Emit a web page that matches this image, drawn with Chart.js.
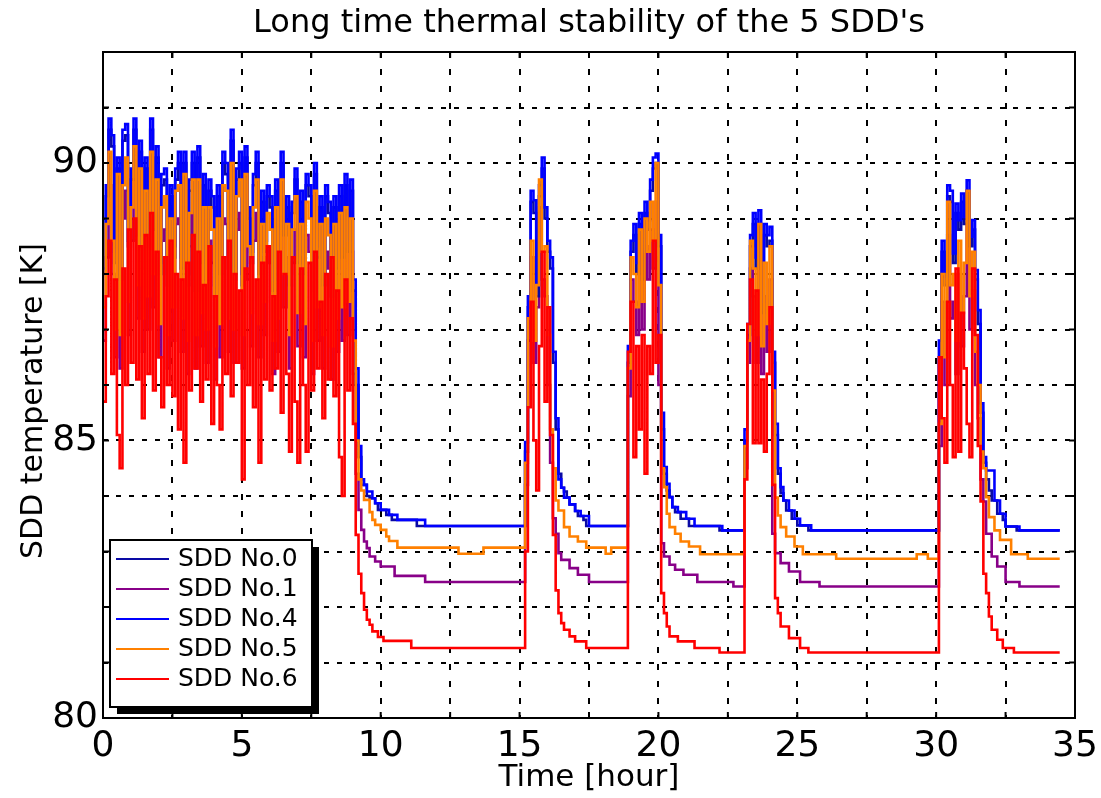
<!DOCTYPE html>
<html>
<head>
<meta charset="utf-8">
<script src="https://cdn.jsdelivr.net/npm/chart.js@4.4.1/dist/chart.umd.min.js"></script>
<style>
  html, body { margin: 0; padding: 0; background: #fff; }
  #wrap { width: 1101px; height: 798px; }
</style>
</head>
<body>
<div id="wrap"><canvas id="chart" width="1101" height="798"></canvas></div>
<script>
// readings are sampled every 0.1 h inside each block; a block's last value holds until the next block starts
const blockStartHours = [0, 12.8, 15.1, 18.1, 18.8, 23.0, 26.4, 29.3, 30.0, 34.45];
const sampleStepHours = 0.1;

const seriesNames = ['SDD No.0', 'SDD No.1', 'SDD No.4', 'SDD No.5', 'SDD No.6'];
const seriesColors = ['#0a0aa5', '#880088', '#0000ff', '#ff8000', '#ff0000'];
const drawOrder = [4, 5, 3, 2, 1]; // red on top, purple at the bottom

const xTicks = [0, 5, 10, 15, 20, 25, 30, 35];
const yTicks = [80, 85, 90];
const yTitle = 'SDD temperature [K]';

const sdd0 = [
  [88.0, 89.4, 90.6, 90.3, 88.2, 89.9, 87.9, 90.4, 90.5, 88.5,
   89.7, 90.6, 88.7, 90.2, 88.1, 89.9, 88.5, 90.6, 88.8, 90.1,
   88.0, 89.6, 89.7, 87.8, 89.4, 88.3, 89.7, 90.0, 88.1, 90.0,
   87.8, 89.5, 90.0, 87.7, 90.1, 88.2, 89.6, 87.9, 89.5, 89.2,
   87.6, 89.4, 88.0, 90.0, 89.8, 88.1, 90.4, 87.9, 89.7, 90.0,
   87.8, 90.1, 89.0, 88.2, 89.6, 90.0, 88.0, 89.3, 88.4, 89.4,
   89.2, 87.7, 89.5, 88.1, 90.0, 88.7, 89.2, 87.8, 89.1, 89.7,
   88.2, 89.3, 88.0, 89.6, 89.4, 87.7, 89.8, 88.3, 89.2, 87.8,
   89.4, 89.1, 87.6, 89.2, 88.1, 89.4, 88.3, 89.6, 88.4, 89.5,
   87.7,
   86.0, 84.7, 84.2, 84.2, 84.0, 83.96, 83.96, 83.87, 83.75,
   83.75, 83.75, 83.66, 83.66, 83.57, 83.57, 83.57, 83.57, 83.57, 83.57,
   83.57, 83.57, 83.57, 83.46],
  [83.46],
  [83.46, 84.8, 87.4, 89.3, 89.1, 87.6, 89.4, 89.9, 89.0, 88.4,
   88.1, 86.4, 85.2, 84.4, 84.15, 84.08, 83.97, 83.85, 83.85, 83.73,
   83.64, 83.64, 83.57, 83.46],
  [83.46],
  [83.46, 86.4, 88.4, 88.7, 88.0, 88.9, 87.9, 89.1, 88.8, 89.5,
   89.9, 90.0, 88.5, 85.2, 84.4, 84.1, 83.98, 83.8, 83.71, 83.71,
   83.59, 83.59, 83.59, 83.46, 83.46, 83.46, 83.46, 83.46, 83.46, 83.46,
   83.46, 83.46, 83.46, 83.46, 83.38],
  [83.38, 85.0, 86.9, 88.5, 88.9, 88.1, 88.9, 87.3, 88.7, 88.5,
   88.6, 86.4, 85.1, 84.4, 84.05, 83.92, 83.74, 83.74, 83.59, 83.59,
   83.47, 83.47, 83.47, 83.47, 83.38],
  [83.38],
  [83.38],
  [83.38, 86.5, 88.4, 87.8, 89.4, 89.3, 88.2, 89.1, 88.8, 89.3,
   88.9, 89.5, 88.5, 88.8, 87.9, 87.1, 85.5, 84.6, 84.3, 84.1,
   83.92, 83.92, 83.68, 83.68, 83.57, 83.45, 83.45, 83.45, 83.45, 83.38],
  [83.38]
];

const sdd1 = [
  [86.8, 88.3, 89.6, 88.0, 86.5, 89.2, 86.3, 89.0, 89.5, 86.9,
   88.6, 89.7, 87.2, 89.3, 86.6, 88.9, 87.0, 89.6, 87.4, 89.1,
   86.5, 88.6, 88.8, 86.3, 88.4, 86.8, 88.9, 89.0, 86.6, 89.2,
   86.2, 88.5, 89.1, 86.3, 89.1, 86.7, 88.6, 86.4, 88.6, 88.2,
   86.1, 88.4, 86.5, 89.0, 88.9, 86.6, 89.4, 86.4, 88.8, 89.1,
   86.3, 89.2, 87.9, 86.7, 88.6, 89.1, 86.5, 88.3, 86.9, 88.5,
   88.2, 86.2, 88.6, 86.6, 89.1, 87.4, 88.3, 86.3, 88.2, 88.8,
   86.7, 88.3, 86.5, 88.7, 88.4, 86.2, 88.9, 86.8, 88.3, 86.3,
   88.4, 88.1, 86.1, 88.3, 86.6, 88.5, 86.8, 88.6, 86.9, 88.4,
   86.2,
   84.4, 83.75, 83.39, 83.18, 83.06, 82.91, 82.91, 82.82, 82.82,
   82.73, 82.73, 82.73, 82.73, 82.73, 82.56, 82.56, 82.56, 82.56, 82.56,
   82.56, 82.56, 82.56, 82.56, 82.56, 82.56, 82.45],
  [82.45],
  [82.45, 84.2, 86.8, 88.3, 86.4, 87.4, 89.2, 87.9, 87.6, 86.0,
   84.6, 83.6, 83.32, 82.97, 82.85, 82.85, 82.85, 82.7, 82.7, 82.7,
   82.58, 82.58, 82.58, 82.58, 82.45],
  [82.45],
  [82.45, 85.8, 87.9, 87.5, 86.9, 88.3, 87.0, 88.5, 87.9, 88.8,
   88.1, 89.3, 86.0, 83.15, 82.91, 82.91, 82.76, 82.76, 82.67, 82.67,
   82.67, 82.58, 82.58, 82.58, 82.58, 82.58, 82.45, 82.45, 82.45, 82.45,
   82.45, 82.45, 82.45, 82.45, 82.45, 82.45, 82.45, 82.45, 82.45, 82.37],
  [82.37, 84.5, 86.4, 88.1, 87.6, 86.4, 88.3, 86.2, 87.6, 86.6,
   87.9, 83.32, 82.97, 82.97, 82.79, 82.79, 82.79, 82.64, 82.64, 82.64,
   82.64, 82.45, 82.45, 82.45, 82.45, 82.45, 82.45, 82.45, 82.37],
  [82.37],
  [82.37],
  [82.37, 84.9, 87.5, 86.0, 88.7, 87.2, 87.5, 86.2, 88.0, 86.7,
   87.6, 88.9, 87.0, 87.7, 86.0, 85.4, 84.3, 83.9, 83.32, 83.32,
   82.91, 82.91, 82.73, 82.73, 82.73, 82.45, 82.45, 82.45, 82.45, 82.45,
   82.37],
  [82.37]
];

const sdd4 = [
  [88.1, 89.6, 90.8, 90.5, 88.4, 90.1, 88.0, 90.6, 90.7, 88.6,
   89.9, 90.8, 88.9, 90.4, 88.3, 90.1, 88.7, 90.8, 89.0, 90.3,
   88.2, 89.8, 89.9, 88.0, 89.6, 88.5, 89.9, 90.2, 88.3, 90.2,
   88.0, 89.7, 90.2, 87.9, 90.3, 88.4, 89.8, 88.1, 89.7, 89.4,
   87.8, 89.6, 88.2, 90.2, 90.0, 88.3, 90.6, 88.1, 89.9, 90.2,
   88.0, 90.3, 89.2, 88.4, 89.8, 90.2, 88.2, 89.5, 88.6, 89.6,
   89.4, 87.9, 89.7, 88.3, 90.2, 88.9, 89.4, 88.0, 89.3, 89.9,
   88.4, 89.5, 88.2, 89.8, 89.6, 87.9, 90.0, 88.5, 89.4, 88.0,
   89.6, 89.3, 87.8, 89.4, 88.3, 89.6, 88.5, 89.8, 88.6, 89.7,
   87.9,
   86.3, 84.9, 84.3, 84.2, 84.08, 84.08, 83.96, 83.87, 83.87,
   83.75, 83.75, 83.75, 83.66, 83.66, 83.66, 83.57, 83.57, 83.57, 83.57,
   83.57, 83.57, 83.57, 83.57, 83.57, 83.57, 83.46],
  [83.46],
  [83.46, 84.97, 87.6, 89.5, 89.33, 87.8, 89.6, 90.1, 89.2, 88.6,
   88.3, 86.6, 85.4, 84.3, 84.15, 83.97, 83.97, 83.85, 83.85, 83.73,
   83.73, 83.64, 83.64, 83.64, 83.46],
  [83.46],
  [83.46, 86.7, 88.6, 88.9, 88.2, 89.1, 88.1, 89.3, 88.97, 89.7,
   90.1, 90.17, 88.7, 85.5, 84.52, 84.22, 83.98, 83.8, 83.8, 83.71,
   83.71, 83.71, 83.59, 83.59, 83.59, 83.46, 83.46, 83.46, 83.46, 83.46,
   83.46, 83.46, 83.46, 83.46, 83.46, 83.38],
  [83.38, 85.2, 87.1, 88.7, 89.1, 88.3, 89.15, 87.5, 88.9, 88.7,
   88.85, 86.6, 85.3, 84.5, 84.16, 83.92, 83.92, 83.74, 83.74, 83.59,
   83.59, 83.47, 83.47, 83.47, 83.47, 83.38],
  [83.38],
  [83.38],
  [83.38, 86.8, 88.6, 87.95, 89.6, 89.5, 88.37, 89.27, 88.97, 89.45,
   89.03, 89.69, 88.67, 88.97, 88.07, 87.35, 85.67, 84.7, 84.46, 84.46,
   84.46, 83.92, 83.92, 83.68, 83.68, 83.45, 83.45, 83.45, 83.45, 83.45,
   83.38],
  [83.38]
];

const sdd5 = [
  [87.4, 88.9, 90.2, 88.6, 87.0, 89.8, 86.9, 89.6, 90.1, 87.5,
   89.2, 90.3, 87.8, 89.9, 87.2, 89.5, 87.6, 90.2, 88.0, 89.7,
   87.1, 89.2, 89.4, 86.9, 89.0, 87.4, 89.5, 89.6, 87.2, 89.8,
   86.8, 89.1, 89.7, 86.9, 89.7, 87.3, 89.2, 87.0, 89.2, 88.8,
   86.7, 89.0, 87.1, 89.6, 89.5, 87.2, 90.0, 87.0, 89.4, 89.7,
   86.9, 89.8, 88.5, 87.3, 89.2, 89.7, 87.1, 88.9, 87.5, 89.1,
   88.8, 86.8, 89.2, 87.2, 89.7, 88.0, 88.9, 86.9, 88.8, 89.4,
   87.3, 88.9, 87.1, 89.3, 89.0, 86.8, 89.5, 87.4, 88.9, 86.9,
   89.0, 88.7, 86.7, 88.9, 87.2, 89.1, 87.4, 89.2, 87.5, 89.0,
   86.8,
   85.0, 84.3, 84.1, 83.93, 83.93, 83.71, 83.57, 83.48, 83.48,
   83.39, 83.39, 83.27, 83.19, 83.19, 83.19, 83.07],
  [82.96, 82.96, 82.96, 82.96, 82.96, 82.96, 82.96, 82.96, 82.96, 83.07],
  [83.07, 84.6, 87.2, 88.6, 86.8, 87.8, 89.7, 88.4, 88.5, 86.9,
   85.2, 84.5, 83.92, 83.74, 83.74, 83.44, 83.44, 83.27, 83.27, 83.27,
   83.18, 83.18, 83.18, 83.07],
  [82.96, 82.96, 83.07],
  [83.07, 86.3, 88.3, 88.0, 87.4, 88.8, 87.5, 89.0, 88.4, 89.3,
   88.6, 90.0, 87.8, 84.5, 84.16, 83.68, 83.44, 83.44, 83.32, 83.32,
   83.18, 83.18, 83.18, 83.09, 83.09, 83.09, 83.09, 82.95],
  [82.95, 84.9, 86.8, 88.6, 88.1, 86.9, 88.9, 86.7, 88.2, 87.1,
   88.5, 85.9, 83.97, 83.65, 83.44, 83.44, 83.27, 83.27, 83.27, 83.09,
   83.09, 83.09, 82.95],
  [82.87],
  [82.95, 82.95, 82.95, 82.95, 82.87],
  [82.87, 85.3, 88.0, 86.5, 89.3, 87.8, 88.0, 86.8, 88.6, 87.3,
   88.2, 89.5, 87.6, 88.4, 86.6, 86.0, 84.8, 84.5, 83.98, 83.62,
   83.62, 83.38, 83.38, 83.21, 83.21, 83.21, 83.21, 82.95, 82.95, 82.95,
   82.95, 82.95, 82.95, 82.87],
  [82.87]
];

const sdd6 = [
  [85.7, 87.6, 88.6, 86.2, 87.9, 85.1, 84.5, 88.1, 86.0, 88.8,
   86.4, 89.0, 86.1, 88.5, 85.4, 88.7, 86.2, 89.1, 85.9, 88.4,
   86.5, 85.6, 88.3, 86.0, 88.6, 85.8, 88.0, 85.2, 87.9, 84.6,
   88.2, 85.9, 88.7, 86.3, 88.4, 85.7, 87.8, 86.1, 88.5, 85.3,
   87.6, 86.0, 85.2, 88.3, 86.2, 88.6, 85.8, 88.0, 86.4, 87.7,
   84.3, 88.1, 86.0, 88.3, 85.6, 87.9, 84.6, 88.2, 86.1, 88.5,
   85.9, 87.6, 86.3, 88.4, 85.5, 88.0, 86.2, 84.8, 88.3, 85.7,
   84.6, 88.1, 86.0, 84.8, 88.2, 85.9, 88.4, 86.3, 87.5, 85.4,
   88.0, 86.1, 88.3, 85.8, 87.7, 84.7, 84.0, 87.9, 85.9, 87.2,
   85.3,
   83.3, 82.6, 82.25, 81.95, 81.77, 81.68, 81.56, 81.56, 81.46,
   81.46, 81.39, 81.39, 81.39, 81.39, 81.39, 81.39, 81.39, 81.39, 81.39,
   81.39, 81.26],
  [81.26],
  [81.26, 83.0, 85.6, 87.5, 85.0, 84.1, 86.7, 88.4, 85.7, 87.4,
   85.1, 83.3, 82.3, 81.89, 81.71, 81.59, 81.59, 81.47, 81.47, 81.38,
   81.38, 81.38, 81.38, 81.26],
  [81.26],
  [81.26, 86.6, 87.5, 84.7, 86.7, 85.2, 86.9, 84.4, 86.7, 86.2,
   88.6, 86.4, 86.9, 82.25, 81.89, 81.65, 81.47, 81.47, 81.47, 81.38,
   81.38, 81.38, 81.38, 81.38, 81.38, 81.26, 81.26, 81.26, 81.26, 81.26,
   81.26, 81.26, 81.26, 81.26, 81.18],
  [81.18, 84.3, 87.1, 87.9, 84.95, 87.7, 84.95, 86.1, 84.8, 86.2,
   87.4, 84.2, 82.16, 81.89, 81.65, 81.65, 81.65, 81.44, 81.44, 81.44,
   81.44, 81.26, 81.26, 81.26, 81.18],
  [81.18],
  [81.18],
  [81.18, 86.5, 85.4, 84.6, 87.5, 86.0, 84.7, 88.1, 84.8, 87.3,
   86.3, 85.3, 84.7, 88.1, 86.9, 84.9, 83.9, 82.6, 82.25, 81.83,
   81.59, 81.59, 81.41, 81.41, 81.26, 81.26, 81.26, 81.26, 81.18],
  [81.18]
];

const seriesValues = [sdd0, sdd1, sdd4, sdd5, sdd6];

// turn the blocks of one series into {x: hour, y: kelvin} points
const toPoints = (blocks) => {
    const pts = [];
    blocks.forEach((vals, b) => {
        vals.forEach((v, i) => {
            pts.push({ x: Math.round((blockStartHours[b] + i * sampleStepHours) * 100) / 100, y: v });
        });
    });
    return pts;
};

const FONT = '"DejaVu Sans", sans-serif';

// plot frame, inner tick marks, y title and the boxed legend with its shadow
const frameAndLegend = {
    id: 'frameAndLegend',
    afterDraw(chart) {
        const { ctx, chartArea: a, scales } = chart;
        ctx.save();
        ctx.setLineDash([]);
        ctx.strokeStyle = '#000';
        ctx.lineWidth = 2;
        ctx.beginPath();
        scales.x.ticks.forEach(t => {
            const px = scales.x.getPixelForValue(t.value);
            ctx.moveTo(px, a.bottom); ctx.lineTo(px, a.bottom - 6);
            ctx.moveTo(px, a.top); ctx.lineTo(px, a.top + 6);
        });
        scales.y.ticks.forEach(t => {
            const py = scales.y.getPixelForValue(t.value);
            ctx.moveTo(a.left, py); ctx.lineTo(a.left + 6, py);
            ctx.moveTo(a.right, py); ctx.lineTo(a.right - 6, py);
        });
        ctx.stroke();
        ctx.strokeRect(a.left, a.top, a.right - a.left, a.bottom - a.top);

        // y axis title, sitting a little below the middle as in the original
        ctx.save();
        ctx.translate(34, a.top + (a.bottom - a.top) / 2 + 16);
        ctx.rotate(-Math.PI / 2);
        ctx.font = '30px ' + FONT;
        ctx.fillStyle = '#000';
        ctx.textAlign = 'center';
        ctx.textBaseline = 'middle';
        ctx.fillText(yTitle, 0, 0);
        ctx.restore();

        const bx = a.left + 7, bw = 202, bh = 167, by = a.bottom - 178;
        ctx.fillStyle = '#000';
        ctx.fillRect(bx + 7, by + 7, bw, bh);
        ctx.fillStyle = '#fff';
        ctx.fillRect(bx, by, bw, bh);
        ctx.strokeRect(bx, by, bw, bh);
        ctx.font = '25px ' + FONT;
        ctx.textBaseline = 'middle';
        ctx.textAlign = 'left';
        chart.data.datasets.forEach((ds, i) => {
            const ry = by + 19 + i * 30;
            ctx.strokeStyle = ds.borderColor;
            ctx.lineWidth = 2;
            ctx.beginPath();
            ctx.moveTo(bx + 6, ry);
            ctx.lineTo(bx + 59, ry);
            ctx.stroke();
            ctx.fillStyle = '#000';
            ctx.fillText(ds.label, bx + 68, ry);
        });
        ctx.restore();
    }
};

new Chart(document.getElementById('chart'), {
    type: 'line',
    data: {
        datasets: seriesNames.map((name, k) => ({
            label: name,
            data: toPoints(seriesValues[k]),
            borderColor: seriesColors[k],
            backgroundColor: seriesColors[k],
            borderWidth: 2.6,
            pointRadius: 0,
            stepped: 'before',
            fill: false,
            order: drawOrder[k]
        }))
    },
    options: {
        responsive: false,
        animation: false,
        devicePixelRatio: 1,
        layout: { padding: { left: 0, right: 26, top: 0, bottom: 0 } },
        plugins: {
            legend: { display: false },
            tooltip: { enabled: false },
            title: {
                display: true,
                text: "Long time thermal stability of the 5 SDD's",
                color: '#000',
                fullSize: false,
                font: { family: FONT, size: 32, weight: 'normal' },
                padding: { top: 4, bottom: 9.6 }
            }
        },
        scales: {
            x: {
                type: 'linear',
                min: 0,
                max: 35,
                // keep the plot frame where the original has it; the "35" label may overhang
                afterFit: (s) => { s.height = 80; s.paddingLeft = 0; s.paddingRight = 0; },
                grid: { color: '#000', lineWidth: 2, drawTicks: false },
                border: { display: false, dash: [6, 11] },
                ticks: {
                    stepSize: 2.5,
                    autoSkip: false,
                    maxRotation: 0,
                    padding: 7,
                    color: '#000',
                    font: { family: FONT, size: 36 },
                    callback: (v) => xTicks.includes(v) ? String(v) : ''
                },
                title: {
                    display: true,
                    text: 'Time [hour]',
                    color: '#000',
                    font: { family: FONT, size: 31 },
                    padding: { top: 0, bottom: 1 }
                }
            },
            y: {
                min: 80,
                max: 92,
                afterFit: (s) => { s.width = 103; },
                grid: { color: '#000', lineWidth: 2, drawTicks: false },
                border: { display: false, dash: [5, 8] },
                ticks: {
                    stepSize: 1,
                    autoSkip: false,
                    padding: 5,
                    color: '#000',
                    font: { family: FONT, size: 36 },
                    callback: (v) => yTicks.includes(v) ? String(v) : ''
                },
                title: { display: false }
            }
        }
    },
    plugins: [frameAndLegend]
});
</script>
</body>
</html>
